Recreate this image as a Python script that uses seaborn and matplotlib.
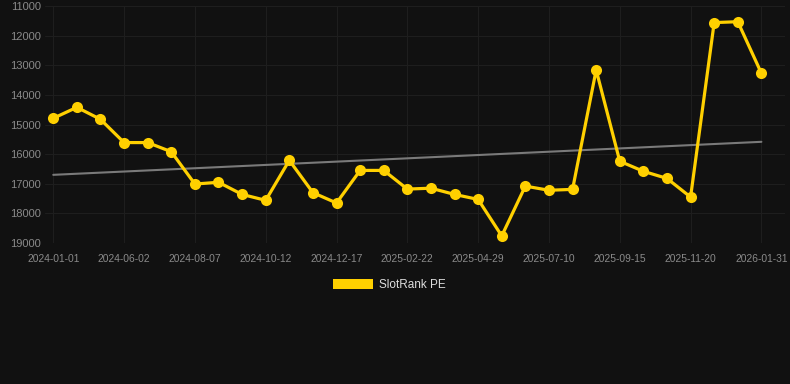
import numpy as np
import pandas as pd
import matplotlib
matplotlib.use("Agg")
import matplotlib.pyplot as plt
import seaborn as sns
from matplotlib.patches import Patch

# data (x is categorical, one point per step)
tick_labels = ["2024-01-01", "2024-06-02", "2024-08-07", "2024-10-12", "2024-12-17",
               "2025-02-22", "2025-04-29", "2025-07-10", "2025-09-15", "2025-11-20",
               "2026-01-31"]
pe_values = [14790, 14420, 14825, 15610, 15610, 15920, 17010, 16950, 17360, 17560,
             16210, 17300, 17650, 16550, 16550, 17180, 17150, 17360, 17530, 18760,
             17080, 17220, 17190, 13160, 16240, 16580, 16820, 17450, 11560, 11530,
             13270]

df = pd.DataFrame({"idx": np.arange(len(pe_values)), "pe": pe_values})

# linear trend over the series
coef = np.polyfit(df["idx"], df["pe"], 1)
df["trend"] = np.polyval(coef, df["idx"])

bg = "#111111"
sns.set_style("dark")
plt.rcParams["font.family"] = ["Liberation Sans", "DejaVu Sans"]

fig = plt.figure(figsize=(7.9, 3.84), dpi=100, facecolor=bg)
ax = fig.add_axes([45 / 790, 1 - 243 / 384, 740 / 790, 237 / 384])
ax.set_facecolor(bg)

sns.lineplot(data=df, x="idx", y="trend", ax=ax, color="#7a7a7a", linewidth=1.5)
sns.lineplot(data=df, x="idx", y="pe", ax=ax, color="#FFD000", linewidth=2.3,
             marker="o", markersize=8, markeredgewidth=0)

ax.set_ylim(19000, 11000)
ax.set_yticks(range(11000, 19001, 1000))
ax.set_xlim(-0.35, 31.0)
ax.set_xticks(range(0, len(pe_values), 3))
ax.set_xticklabels(tick_labels)
ax.set_xlabel("")
ax.set_ylabel("")

ax.grid(True, color="#1e1e1e", linewidth=0.8)
for s in ax.spines.values():
    s.set_visible(False)
ax.tick_params(axis="both", colors="#8a8a8a", length=0)
ax.tick_params(axis="x", labelsize=7.4, length=5, color="#262626", pad=3)
ax.tick_params(axis="y", labelsize=8, pad=3)

fig.legend(handles=[Patch(facecolor="#FFD000", edgecolor="none", label="SlotRank PE")],
           loc="center", bbox_to_anchor=(389 / 790, 1 - 285 / 384), frameon=False,
           handlelength=3.4, handleheight=0.9, handletextpad=0.5,
           labelcolor="#dddddd", fontsize=8.5)

fig.savefig("out.png", dpi=100, facecolor=bg)
